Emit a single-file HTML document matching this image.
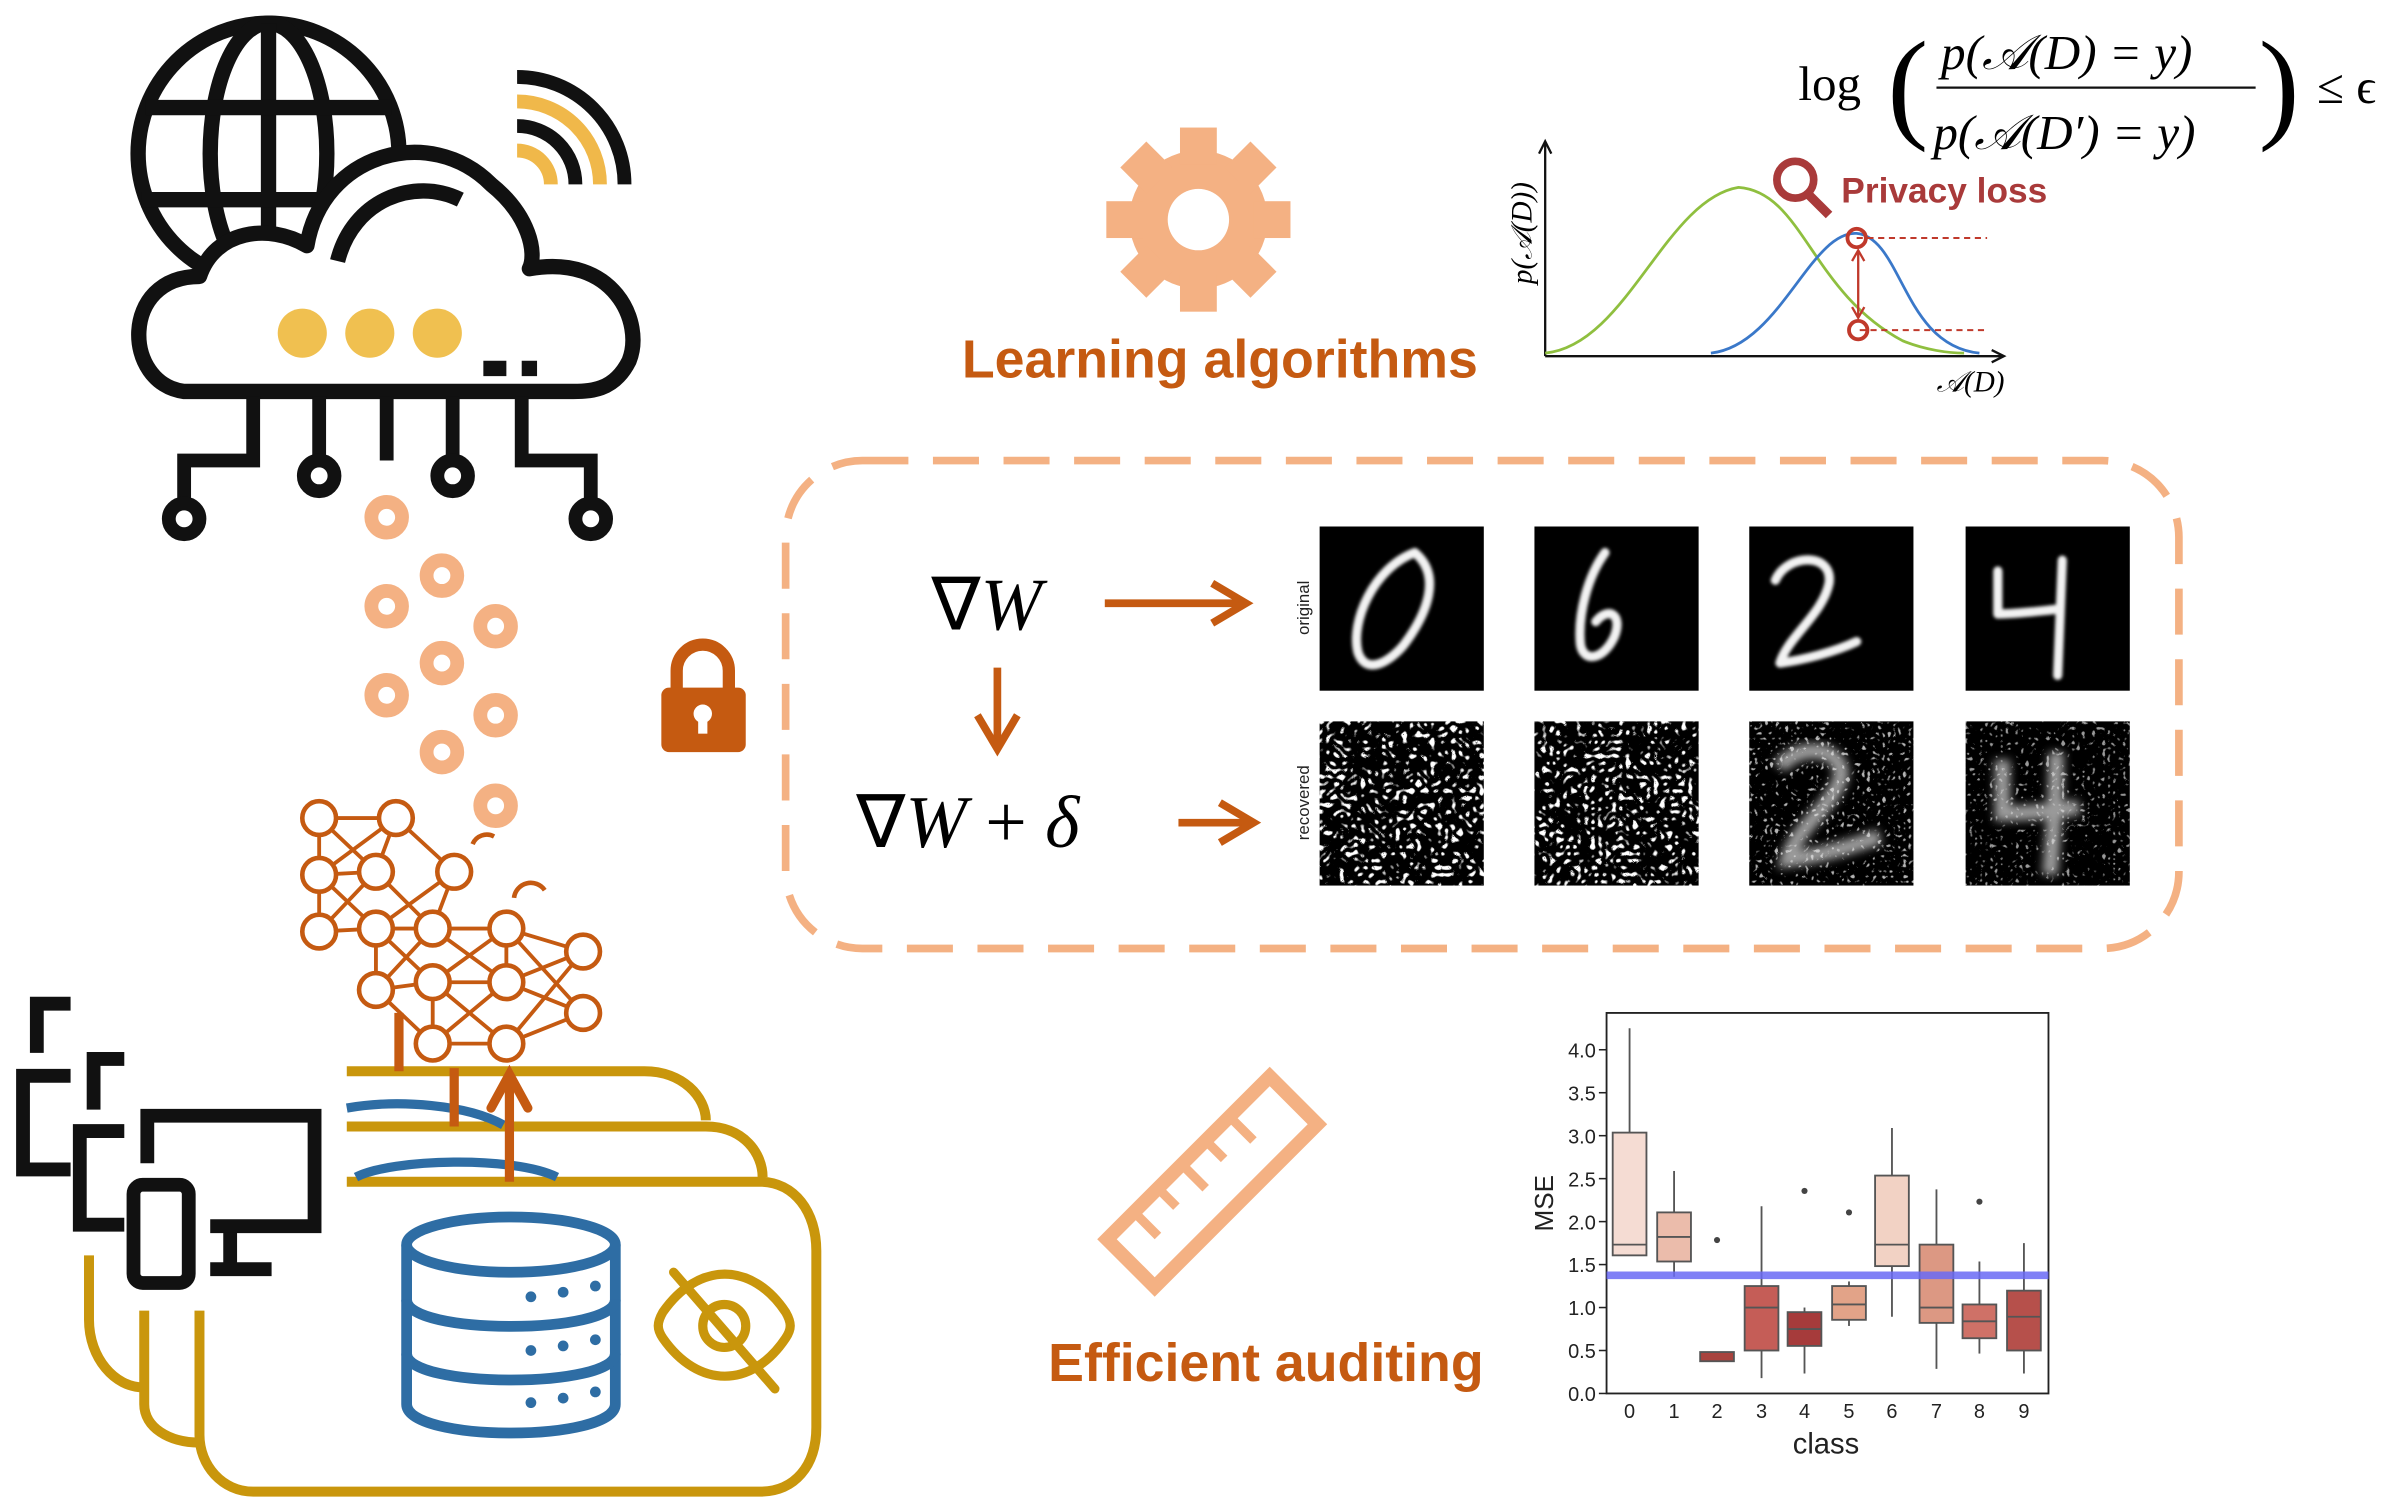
<!DOCTYPE html>
<html><head><meta charset="utf-8"><style>
html,body{margin:0;padding:0;background:#fff;}
svg{display:block;}
text{font-family:"Liberation Sans",sans-serif;}
.serif{font-family:"Liberation Serif",serif;}
</style></head><body>
<svg width="2406" height="1498" viewBox="0 0 1568 976" xmlns="http://www.w3.org/2000/svg">
<defs>
<filter id="noise" x="0" y="0" width="100%" height="100%">
<feTurbulence type="turbulence" baseFrequency="0.22" numOctaves="1" seed="5"/>
<feColorMatrix type="matrix" values="0 0 0 0 1  0 0 0 0 1  0 0 0 0 1  6 0 0 0 -1.4"/>
</filter>
<filter id="noise2" x="0" y="0" width="100%" height="100%">
<feTurbulence type="turbulence" baseFrequency="0.3" numOctaves="1" seed="9"/>
<feColorMatrix type="matrix" values="0 0 0 0 1  0 0 0 0 1  0 0 0 0 1  6 0 0 0 -1.8"/>
</filter>
<filter id="blur1"><feGaussianBlur stdDeviation="1"/></filter>
<filter id="blur2"><feGaussianBlur stdDeviation="3"/></filter>
</defs>

<!-- Globe -->
<g fill="none" stroke="#111" stroke-width="10">
<circle cx="175" cy="100" r="85"/>
<ellipse cx="175" cy="100" rx="38" ry="85"/>
<line x1="175" y1="15" x2="175" y2="185"/>
<line x1="95" y1="70" x2="255" y2="70"/>
<line x1="92" y1="130" x2="258" y2="130"/>
</g>
<!-- Cloud -->
<path d="M120,255 C80,250 78,180 130,180 C140,150 175,145 200,160 C210,100 280,80 320,120 C345,140 350,165 345,175 C400,165 420,210 410,235 C400,255 385,255 370,255 Z" fill="#fff" stroke="#111" stroke-width="10" stroke-linejoin="round"/>
<path d="M220,170 C230,130 270,115 300,130" fill="none" stroke="#111" stroke-width="10"/>
<path d="M315,240 L330,240 M340,240 L350,240" fill="none" stroke="#111" stroke-width="10"/>
<circle cx="197" cy="217" r="16" fill="#f0c050"/>
<circle cx="241" cy="217" r="16" fill="#f0c050"/>
<circle cx="285" cy="217" r="16" fill="#f0c050"/>
<!-- wifi -->
<g fill="none">
<path d="M337,50 A70,70 0 0 1 407,120" stroke="#111" stroke-width="9"/>
<path d="M337,66 A54,54 0 0 1 391,120" stroke="#f0b84a" stroke-width="9"/>
<path d="M337,82 A38,38 0 0 1 375,120" stroke="#111" stroke-width="9"/>
<path d="M337,98 A22,22 0 0 1 359,120" stroke="#f0b84a" stroke-width="9"/>
</g>
<!-- circuits -->
<g fill="none" stroke="#111" stroke-width="9">
<path d="M165,258 V300 H120 V325"/>
<path d="M208,258 V297"/>
<path d="M252,258 V300"/>
<path d="M295,258 V297"/>
<path d="M340,258 V300 H385 V325"/>
<circle cx="120" cy="338" r="10"/>
<circle cx="208" cy="310" r="10"/>
<circle cx="295" cy="310" r="10"/>
<circle cx="385" cy="338" r="10"/>
</g>
<!-- orange rings -->
<g fill="none" stroke="#f4b183" stroke-width="9">
<circle cx="252" cy="337" r="10"/><circle cx="288" cy="375" r="10"/><circle cx="252" cy="395" r="10"/>
<circle cx="323" cy="408" r="10"/><circle cx="288" cy="432" r="10"/><circle cx="252" cy="453" r="10"/>
<circle cx="323" cy="466" r="10"/><circle cx="288" cy="490" r="10"/><circle cx="323" cy="525" r="10"/>
</g>

<!-- Gold cards -->
<g fill="none" stroke="#c9960c" stroke-width="6.5">
<path d="M226,698 H420 C445,698 460,715 460,730"/>
<path d="M226,734 H460 C485,734 497,752 497,767"/>
<path d="M58,818 V860 C58,885 75,904 93,904"/>
<path d="M94,854 V915 C94,930 110,940 130,940"/>
<path d="M226,770 H495 C518,770 532,790 532,815 V930 C532,955 518,972 495,972 H165 C145,972 130,955 130,935 V854"/>
</g>
<path d="M226,722 C260,716 305,720 328,733" fill="none" stroke="#2e6da4" stroke-width="6"/>
<path d="M232,767 C255,755 335,753 363,767" fill="none" stroke="#2e6da4" stroke-width="6"/>

<!-- Devices -->
<g fill="none" stroke="#111" stroke-width="9">
<path d="M46,654 H24 V686"/>
<path d="M81,690 H61 V723"/>
<path d="M46,701 H15 V762 H46"/>
<path d="M81,737 H52 V798 H81"/>
<path d="M96,758 V727 H205 V799 H137"/>
<path d="M150,803 V827 M137,827 H177"/>
<rect x="87" y="772" width="36" height="64" rx="6"/>
</g>

<!-- database -->
<g fill="none" stroke="#2e6da4" stroke-width="7">
<ellipse cx="333" cy="811" rx="68" ry="18"/>
<path d="M265,811 V915 C265,940 401,940 401,915 V811"/>
<path d="M265,847 C265,870 401,870 401,847"/>
<path d="M265,882 C265,905 401,905 401,882"/>
</g>
<g fill="#2e6da4"><circle cx="346" cy="845" r="3.5"/><circle cx="367" cy="842" r="3.5"/><circle cx="388" cy="838" r="3.5"/>
<circle cx="346" cy="880" r="3.5"/><circle cx="367" cy="877" r="3.5"/><circle cx="388" cy="873" r="3.5"/>
<circle cx="346" cy="914" r="3.5"/><circle cx="367" cy="911" r="3.5"/><circle cx="388" cy="907" r="3.5"/></g>
<!-- eye slash -->
<g fill="none" stroke="#c9960c" stroke-width="6" stroke-linecap="round">
<path d="M432,855 C428,862 428,866 432,872 C455,905 490,905 512,872 C516,866 516,862 512,855 C490,822 455,822 432,855"/>
<circle cx="472" cy="864" r="14"/>
<line x1="439" y1="829" x2="505" y2="905"/>
</g>

<!-- Neural net -->
<g stroke="#c55a11" stroke-width="2.5" fill="none">
<path d="M208,533 L258,533 L296,568 M208,533 L245,568 M208,533 L208,570 M258,533 L208,570 M258,533 L245,568 M258,533 L296,568 M208,570 L245,568 M208,570 L245,605 M208,570 L208,607 M245,568 L208,607 M245,568 L282,605 M296,568 L282,605 M296,568 L245,605 M208,607 L245,605 M245,605 L282,605 M245,605 L245,645 M245,605 L282,640 M282,605 L245,645 M282,605 L330,640 M282,605 L330,605 M282,640 L330,605 M282,640 L330,640 M282,640 L330,680 M282,640 L282,680 M245,645 L282,680 M245,645 L282,640 M330,605 L380,620 M330,640 L380,620 M330,640 L380,660 M330,680 L380,660 M330,605 L380,660 M282,680 L330,680 M330,605 L330,640 M330,680 L380,620 M282,680 L330,640"/>
</g>
<g fill="#fff" stroke="#c55a11" stroke-width="3">
<circle cx="208" cy="533" r="11"/><circle cx="258" cy="533" r="11"/><circle cx="208" cy="570" r="11"/><circle cx="245" cy="568" r="11"/><circle cx="296" cy="568" r="11"/>
<circle cx="208" cy="607" r="11"/><circle cx="245" cy="605" r="11"/><circle cx="282" cy="605" r="11"/><circle cx="330" cy="605" r="11"/>
<circle cx="245" cy="645" r="11"/><circle cx="282" cy="640" r="11"/><circle cx="330" cy="640" r="11"/>
<circle cx="282" cy="680" r="11"/><circle cx="330" cy="680" r="11"/><circle cx="380" cy="620" r="11"/><circle cx="380" cy="660" r="11"/>
</g>
<path d="M308,550 A10,10 0 0 1 322,545 M335,585 A11,11 0 0 1 355,580" fill="none" stroke="#c55a11" stroke-width="3"/>
<g stroke="#c55a11" stroke-width="6"><line x1="260" y1="660" x2="260" y2="698"/><line x1="296" y1="696" x2="296" y2="734"/><line x1="332" y1="770" x2="332" y2="702"/></g>
<path d="M320,722 L332,700 L344,722" fill="none" stroke="#c55a11" stroke-width="6" stroke-linecap="round"/>

<!-- Gear -->
<g transform="translate(781,143)">
<g fill="#f4b183">
<circle r="45"/>
<rect x="-12" y="-60" width="24" height="24"/><rect x="-12" y="36" width="24" height="24"/>
<rect x="-60" y="-12" width="24" height="24"/><rect x="36" y="-12" width="24" height="24"/>
<rect x="-12" y="-60" width="24" height="24" transform="rotate(45)"/><rect x="-12" y="36" width="24" height="24" transform="rotate(45)"/>
<rect x="-60" y="-12" width="24" height="24" transform="rotate(45)"/><rect x="36" y="-12" width="24" height="24" transform="rotate(45)"/>
</g>
<circle r="20" fill="#fff"/>
</g>
<text x="795" y="246" font-size="35" font-weight="bold" fill="#c55a11" text-anchor="middle">Learning algorithms</text>

<!-- Privacy plot -->
<g stroke="#111" stroke-width="1.5" fill="none">
<line x1="1007" y1="232" x2="1007" y2="93"/><path d="M1003,100 L1007,92 L1011,100"/>
<line x1="1007" y1="232" x2="1305" y2="232"/><path d="M1298,228 L1306,232 L1298,236"/>
</g>
<path d="M1007,230 C1060,225 1085,130 1133,122 C1175,125 1180,190 1240,222 C1255,228 1270,230 1280,230" fill="none" stroke="#8fbf3f" stroke-width="1.8"/>
<path d="M1115,230 C1160,225 1180,150 1210,152 C1240,155 1240,225 1290,230" fill="none" stroke="#3a78c9" stroke-width="1.8"/>
<g stroke="#c0392b" stroke-width="1.3" stroke-dasharray="4,3"><line x1="1210" y1="155" x2="1295" y2="155"/><line x1="1212" y1="215" x2="1295" y2="215"/></g>
<line x1="1211" y1="163" x2="1211" y2="207" stroke="#c0392b" stroke-width="1.5"/>
<path d="M1207,170 L1211,163 L1215,170 M1207,200 L1211,207 L1215,200" fill="none" stroke="#c0392b" stroke-width="1.5"/>
<circle cx="1210" cy="155" r="6" fill="none" stroke="#c0392b" stroke-width="2.5"/>
<circle cx="1211" cy="215" r="6" fill="none" stroke="#c0392b" stroke-width="2.5"/>
<circle cx="1170" cy="117" r="12" fill="none" stroke="#a93a3a" stroke-width="5"/>
<line x1="1179" y1="127" x2="1192" y2="140" stroke="#a93a3a" stroke-width="6"/>
<text x="1200" y="132" font-size="23" font-weight="bold" fill="#a93a3a">Privacy loss</text>
<text class="serif" transform="translate(998,185) rotate(-90)" font-size="19" font-style="italic">p(𝒜(D))</text>
<text class="serif" x="1262" y="255" font-size="19" font-style="italic">𝒜(D)</text>
<!-- formula -->
<g font-size="32">
<text class="serif" x="1172" y="65">log</text>
<text class="serif" x="1230" y="82" font-size="80">(</text>
<text class="serif" x="1265" y="45" font-style="italic">p(𝒜(D) = y)</text>
<line x1="1262" y1="57" x2="1470" y2="57" stroke="#111" stroke-width="1.5"/>
<text class="serif" x="1260" y="97" font-style="italic">p(𝒜(D′) = y)</text>
<text class="serif" x="1472" y="82" font-size="80">)</text>
<text class="serif" x="1510" y="67">≤ ϵ</text>
</g>

<!-- dashed box -->
<rect x="512" y="300" width="908" height="318" rx="50" fill="none" stroke="#f4b183" stroke-width="5" stroke-dasharray="30,16"/>
<!-- lock -->
<path d="M441,450 V437 A17,17 0 0 1 475,437 V450" fill="none" stroke="#c55a11" stroke-width="8"/>
<rect x="431" y="448" width="55" height="42" rx="5" fill="#c55a11"/>
<circle cx="458" cy="465" r="6" fill="#fff"/><rect x="455" y="465" width="6" height="13" fill="#fff"/>

<text class="serif" x="607" y="410" font-size="48">∇<tspan font-style="italic">W</tspan></text>
<text class="serif" x="558" y="552" font-size="48">∇<tspan font-style="italic">W</tspan> + <tspan font-style="italic">δ</tspan></text>
<g stroke="#c55a11" stroke-width="5" fill="none">
<line x1="720" y1="393" x2="810" y2="393"/><path d="M790,380 L812,393 L790,406"/>
<line x1="650" y1="435" x2="650" y2="485"/><path d="M637,466 L650,488 L663,466"/>
<line x1="768" y1="536" x2="815" y2="536"/><path d="M795,523 L817,536 L795,549"/>
</g>
<text transform="translate(853,396) rotate(-90)" font-size="11" fill="#222" text-anchor="middle">original</text>
<text transform="translate(853,523) rotate(-90)" font-size="11" fill="#222" text-anchor="middle">recovered</text>
<g>
<rect x="860" y="343" width="107" height="107" fill="#000"/>
<rect x="1000" y="343" width="107" height="107" fill="#000"/>
<rect x="1140" y="343" width="107" height="107" fill="#000"/>
<rect x="1281" y="343" width="107" height="107" fill="#000"/>
<g fill="none" stroke="#f2f2f2" stroke-width="6" stroke-linecap="round" stroke-linejoin="round" filter="url(#blur1)">
<path d="M922,360 C895,370 880,405 885,425 C890,440 905,432 915,420 C930,400 940,375 922,360"/>
<path d="M1046,360 C1035,375 1028,400 1030,420 C1032,432 1045,430 1052,415 C1058,400 1048,395 1040,405"/>
<path d="M1157,378 C1165,360 1195,360 1192,380 C1188,400 1165,415 1160,432 C1175,430 1195,425 1210,418"/>
<path d="M1302,372 L1302,400 C1315,400 1330,398 1340,397 M1344,365 C1343,395 1342,420 1341,440"/>
</g>
<rect x="860" y="470" width="107" height="107" fill="#000"/><rect x="860" y="470" width="107" height="107" filter="url(#noise)"/>
<rect x="1000" y="470" width="107" height="107" fill="#000"/><rect x="1000" y="470" width="107" height="107" filter="url(#noise)"/>
<rect x="1140" y="470" width="107" height="107" fill="#000"/><rect x="1140" y="470" width="107" height="107" filter="url(#noise2)" opacity="0.7"/>
<rect x="1281" y="470" width="107" height="107" fill="#000"/><rect x="1281" y="470" width="107" height="107" filter="url(#noise2)" opacity="0.6"/>
<g fill="none" stroke="#ddd" stroke-width="10" opacity="0.7" filter="url(#blur2)">
<path d="M1160,500 C1170,485 1200,485 1200,505 C1195,525 1170,540 1165,560 C1185,558 1205,552 1225,545"/>
<path d="M1305,495 L1305,530 C1320,530 1340,528 1355,526 M1340,490 C1340,520 1338,545 1336,570"/>
</g>
</g>

<!-- ruler -->
<g transform="translate(790,770) rotate(-45)">
<rect x="-75" y="-22" width="150" height="44" fill="none" stroke="#f4b183" stroke-width="9"/>
<g stroke="#f4b183" stroke-width="6"><line x1="-50" y1="-18" x2="-50" y2="0"/><line x1="-28" y1="-18" x2="-28" y2="-5"/><line x1="-6" y1="-18" x2="-6" y2="0"/><line x1="16" y1="-18" x2="16" y2="-5"/><line x1="38" y1="-18" x2="38" y2="0"/></g>
</g>
<text x="825" y="900" font-size="35" font-weight="bold" fill="#c55a11" text-anchor="middle">Efficient auditing</text>

<!-- box plot -->
<g font-size="13" fill="#222">
<rect x="1047" y="660" width="288" height="248" fill="none" stroke="#222" stroke-width="1.2"/>
<g stroke="#222" stroke-width="1">
<line x1="1042" y1="908" x2="1047" y2="908"/><line x1="1042" y1="880" x2="1047" y2="880"/><line x1="1042" y1="852" x2="1047" y2="852"/><line x1="1042" y1="824" x2="1047" y2="824"/><line x1="1042" y1="796" x2="1047" y2="796"/><line x1="1042" y1="768" x2="1047" y2="768"/><line x1="1042" y1="740" x2="1047" y2="740"/><line x1="1042" y1="712" x2="1047" y2="712"/><line x1="1042" y1="684" x2="1047" y2="684"/>
</g>
<g text-anchor="end"><text x="1040" y="913">0.0</text><text x="1040" y="885">0.5</text><text x="1040" y="857">1.0</text><text x="1040" y="829">1.5</text><text x="1040" y="801">2.0</text><text x="1040" y="773">2.5</text><text x="1040" y="745">3.0</text><text x="1040" y="717">3.5</text><text x="1040" y="689">4.0</text></g>
<g text-anchor="middle"><text x="1062" y="924">0</text><text x="1091" y="924">1</text><text x="1119" y="924">2</text><text x="1148" y="924">3</text><text x="1176" y="924">4</text><text x="1205" y="924">5</text><text x="1233" y="924">6</text><text x="1262" y="924">7</text><text x="1290" y="924">8</text><text x="1319" y="924">9</text></g>
<text x="1190" y="947" font-size="19" text-anchor="middle">class</text>
<text transform="translate(1012,784) rotate(-90)" font-size="17" text-anchor="middle">MSE</text>
<g stroke="#555" stroke-width="1.2">
<line x1="1062" y1="670" x2="1062" y2="818"/><rect x="1051" y="738" width="22" height="80" fill="#f5dcd3"/><line x1="1051" y1="811" x2="1073" y2="811"/>
<line x1="1091" y1="763" x2="1091" y2="832"/><rect x="1080" y="790" width="22" height="32" fill="#ebbcab"/><line x1="1080" y1="806" x2="1102" y2="806"/>
<rect x="1108" y="881" width="22" height="6" fill="#a8433e"/>
<line x1="1148" y1="786" x2="1148" y2="898"/><rect x="1137" y="838" width="22" height="42" fill="#c55d57"/><line x1="1137" y1="852" x2="1159" y2="852"/>
<line x1="1176" y1="852" x2="1176" y2="895"/><rect x="1165" y="855" width="22" height="22" fill="#a63b3b"/><line x1="1165" y1="866" x2="1187" y2="866"/>
<line x1="1205" y1="835" x2="1205" y2="864"/><rect x="1194" y="838" width="22" height="22" fill="#e2a388"/><line x1="1194" y1="850" x2="1216" y2="850"/>
<line x1="1233" y1="735" x2="1233" y2="858"/><rect x="1222" y="766" width="22" height="59" fill="#f2d2c4"/><line x1="1222" y1="811" x2="1244" y2="811"/>
<line x1="1262" y1="775" x2="1262" y2="892"/><rect x="1251" y="811" width="22" height="51" fill="#dc9883"/><line x1="1251" y1="852" x2="1273" y2="852"/>
<line x1="1290" y1="822" x2="1290" y2="882"/><rect x="1279" y="850" width="22" height="22" fill="#cf7167"/><line x1="1279" y1="861" x2="1301" y2="861"/>
<line x1="1319" y1="810" x2="1319" y2="895"/><rect x="1308" y="841" width="22" height="39" fill="#b6504b"/><line x1="1308" y1="858" x2="1330" y2="858"/>
</g>
<g fill="#444"><circle cx="1119" cy="808" r="2"/><circle cx="1176" cy="776" r="2"/><circle cx="1205" cy="790" r="2"/><circle cx="1290" cy="783" r="2"/></g>
<line x1="1047" y1="831" x2="1335" y2="831" stroke="#6b6bf5" stroke-width="5" opacity="0.85"/>
</g>
</svg>
</body></html>
